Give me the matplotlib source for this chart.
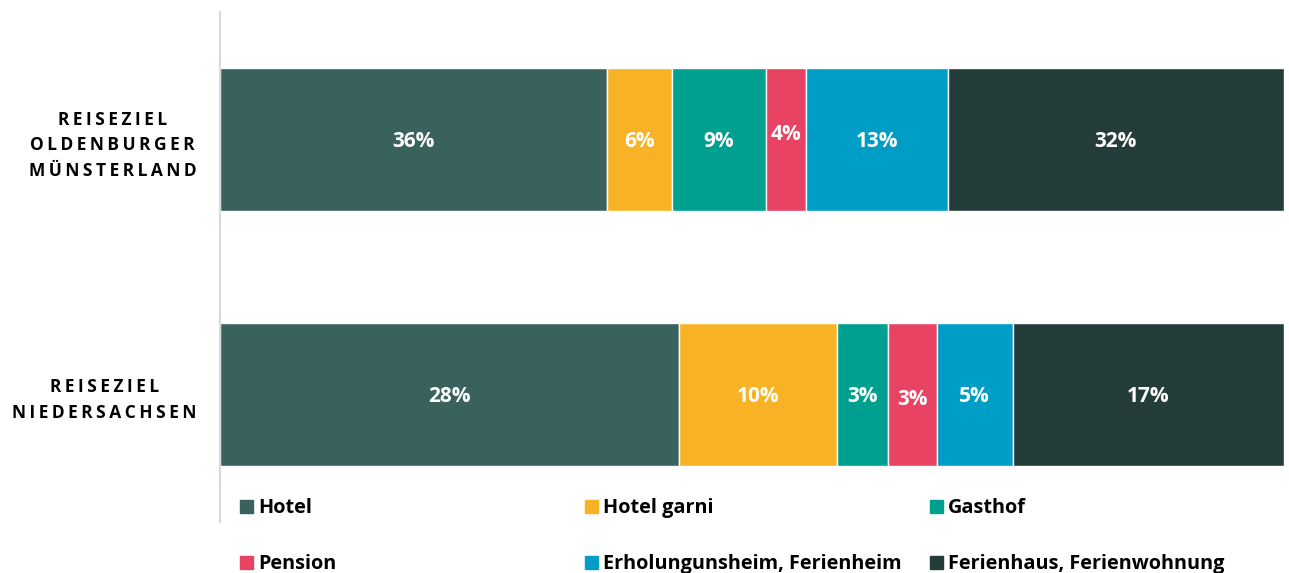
import matplotlib.pyplot as plt
from matplotlib.patches import Rectangle
import numpy as np

regions = ['REISEZIEL\nOLDENBURGER\nMÜNSTERLAND', 'REISEZIEL\nNIEDERSACHSEN']
types = ['Hotel', 'Hotel garni', 'Gasthof', 'Pension',
         'Erholungunsheim, Ferienheim', 'Ferienhaus, Ferienwohnung']
oldenburg = [36.4, 6.1, 8.8, 3.8, 13.3, 31.6]
niedersachsen = [28.4, 9.8, 3.2, 3.0, 4.7, 16.8]
colors = ['#3a625c', '#f8b225', '#00a090', '#e84362', '#009ec6', '#243c3a']

plt.rcParams['font.family'] = ['Open Sans', 'DejaVu Sans']
plt.rcParams['font.weight'] = 'bold'

W, H = 1289, 573
fig = plt.figure(figsize=(W / 100, H / 100), dpi=100)
ax = fig.add_axes([220 / W, 1 - 522 / H, 1064 / W, 510 / H])

data = np.array([oldenburg, niedersachsen])
shares = data / data.sum(axis=1, keepdims=True) * 100
ypos = np.arange(len(regions))
left = np.zeros(len(regions))
for i, t in enumerate(types):
    bars = ax.barh(ypos, shares[:, i], left=left, height=0.561, color=colors[i],
                   edgecolor='white', linewidth=1)
    for j, b in enumerate(bars):
        dy = 0.008
        if t == 'Pension':
            dy = -0.02 if j == 0 else 0.02
        ax.text(b.get_x() + b.get_width() / 2, ypos[j] + dy,
                '%d%%' % round(data[j, i]), ha='center', va='center',
                color='white', fontsize=15, fontweight='bold')
    left += shares[:, i]

ax.set_xlim(0, 100)
ax.set_ylim(1.5, -0.5)
ax.set_xticks([])
ax.set_yticks(ypos)
spaced = ['\n'.join('\u2009'.join(line) for line in r.split('\n')) for r in regions]
ax.set_yticklabels(spaced, fontsize=12.5, linespacing=1.55)
for lab in ax.get_yticklabels():
    lab.set_horizontalalignment('right')
    lab.set_multialignment('center')
ax.tick_params(axis='y', length=0, pad=17)
for s in ['top', 'right', 'bottom']:
    ax.spines[s].set_visible(False)
ax.spines['left'].set_color('#d9d9d9')
ax.spines['left'].set_linewidth(1.5)

# legend, 3 columns x 2 rows
for i, t in enumerate(types):
    col, row = i % 3, i // 3
    x = 240 + 345 * col
    y = 506 + 56 * row
    fig.add_artist(Rectangle((x / W, 1 - (y + 7) / H), 13 / W, 13 / H,
                             transform=fig.transFigure, color=colors[i]))
    fig.text((x + 18) / W, 1 - (y + 2) / H, t, ha='left', va='center',
             fontsize=14.3, fontweight='bold', color='black')

fig.savefig('out.png', dpi=100)
